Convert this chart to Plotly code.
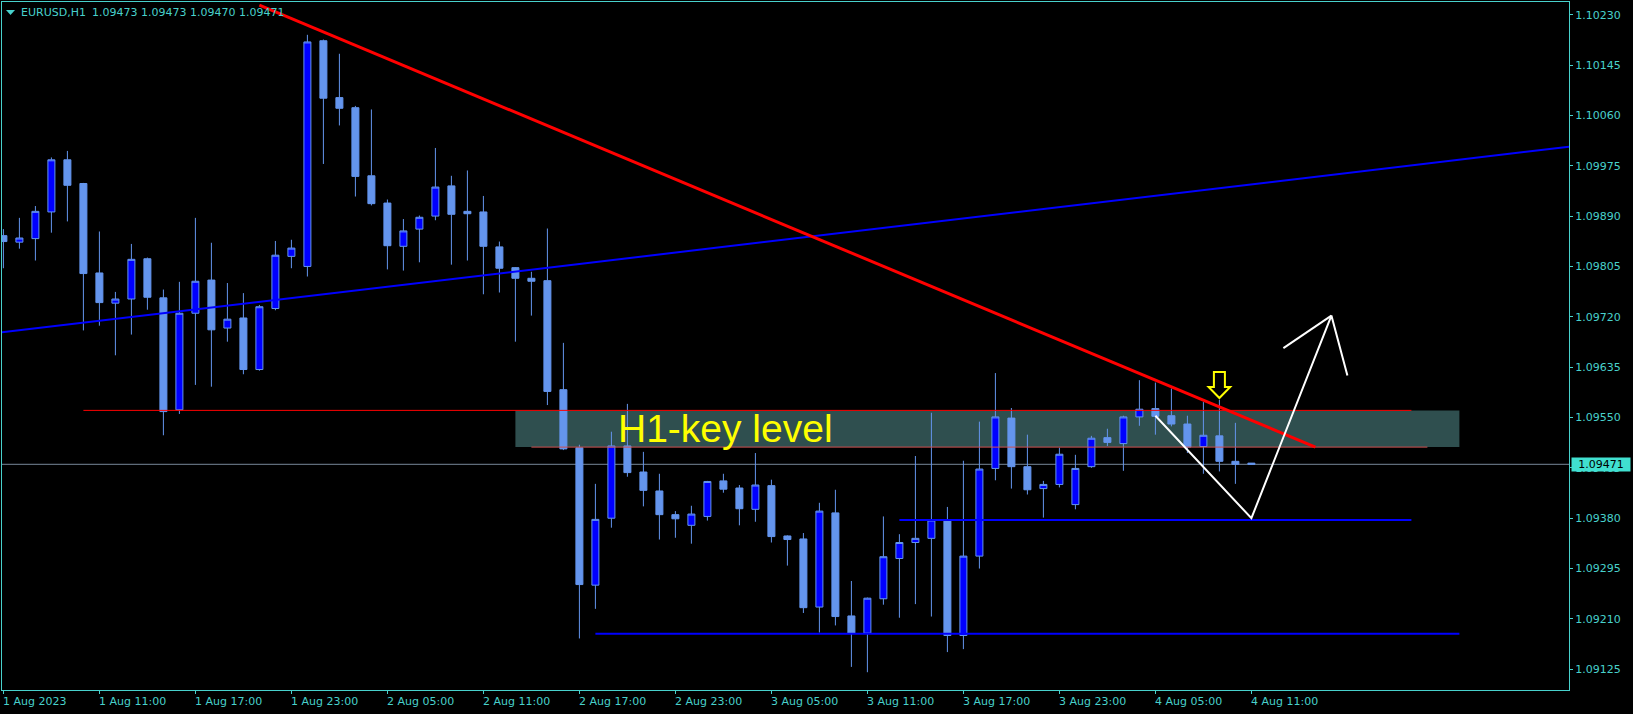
import pandas as pd
import plotly.graph_objects as go

# ---------------- data ----------------
t0 = pd.Timestamp("2023-08-01 05:00")
times = pd.date_range(t0, periods=79, freq="h")

opens = [1.09857, 1.09846, 1.09852, 1.09897, 1.09985, 1.09945, 1.09794, 1.09743, 1.09750, 1.09818,
         1.09752, 1.09563, 1.09726, 1.09782, 1.09701, 1.09718, 1.09631, 1.09734, 1.09822, 1.09805,
         1.10186, 1.10090, 1.10073, 1.09958, 1.09912, 1.09839, 1.09868, 1.09890, 1.09941, 1.09898,
         1.09897, 1.09838, 1.09803, 1.09785, 1.09781, 1.09597, 1.09499, 1.09267, 1.09380, 1.09502,
         1.09458, 1.09426, 1.09386, 1.09368, 1.09383, 1.09443, 1.09431, 1.09395, 1.09435, 1.09350,
         1.09345, 1.09230, 1.09389, 1.09215, 1.09186, 1.09244, 1.09312, 1.09339, 1.09346, 1.09377,
         1.09182, 1.09316, 1.09464, 1.09549, 1.09467, 1.09430, 1.09437, 1.09403, 1.09467, 1.09516,
         1.09506, 1.09551, 1.09565, 1.09553, 1.09539, 1.09501, 1.09519, 1.09476, 1.09473]
highs = [1.09868, 1.09887, 1.09907, 1.09989, 1.10000, 1.09946, 1.09864, 1.09762, 1.09843, 1.09820,
         1.09766, 1.09779, 1.09887, 1.09845, 1.09777, 1.09760, 1.09740, 1.09848, 1.09850, 1.10196,
         1.10188, 1.10164, 1.10076, 1.10070, 1.09918, 1.09885, 1.09891, 1.10005, 1.09958, 1.09967,
         1.09924, 1.09847, 1.09804, 1.09796, 1.09869, 1.09676, 1.09504, 1.09438, 1.09526, 1.09573,
         1.09492, 1.09455, 1.09392, 1.09401, 1.09443, 1.09455, 1.09436, 1.09490, 1.09445, 1.09351,
         1.09355, 1.09406, 1.09428, 1.09274, 1.09246, 1.09383, 1.09353, 1.09485, 1.09558, 1.09399,
         1.09477, 1.09543, 1.09625, 1.09566, 1.09521, 1.09443, 1.09499, 1.09487, 1.09519, 1.09531,
         1.09553, 1.09613, 1.09609, 1.09599, 1.09553, 1.09576, 1.09580, 1.09541, 1.09473]
lows = [1.09802, 1.09835, 1.09815, 1.09862, 1.09881, 1.09697, 1.09705, 1.09655, 1.09690, 1.09732,
        1.09520, 1.09556, 1.09605, 1.09602, 1.09678, 1.09623, 1.09629, 1.09731, 1.09802, 1.09788,
        1.09978, 1.10043, 1.09923, 1.09908, 1.09800, 1.09798, 1.09812, 1.09883, 1.09808, 1.09815,
        1.09758, 1.09761, 1.09678, 1.09722, 1.09571, 1.09495, 1.09177, 1.09227, 1.09364, 1.09450,
        1.09400, 1.09344, 1.09347, 1.09337, 1.09376, 1.09423, 1.09368, 1.09374, 1.09339, 1.09300,
        1.09220, 1.09187, 1.09199, 1.09129, 1.09120, 1.09234, 1.09212, 1.09235, 1.09214, 1.09154,
        1.09159, 1.09295, 1.09444, 1.09430, 1.09420, 1.09381, 1.09432, 1.09395, 1.09465, 1.09502,
        1.09460, 1.09536, 1.09521, 1.09535, 1.09490, 1.09455, 1.09459, 1.09438, 1.09470]
closes = [1.09847, 1.09853, 1.09898, 1.09985, 1.09942, 1.09793, 1.09744, 1.09750, 1.09817, 1.09753,
          1.09560, 1.09726, 1.09780, 1.09698, 1.09716, 1.09631, 1.09737, 1.09824, 1.09836, 1.10184,
          1.10089, 1.10072, 1.09957, 1.09911, 1.09840, 1.09865, 1.09888, 1.09939, 1.09893, 1.09894,
          1.09839, 1.09802, 1.09785, 1.09780, 1.09594, 1.09497, 1.09268, 1.09378, 1.09502, 1.09457,
          1.09427, 1.09386, 1.09379, 1.09387, 1.09442, 1.09429, 1.09396, 1.09436, 1.09349, 1.09344,
          1.09229, 1.09392, 1.09214, 1.09186, 1.09245, 1.09315, 1.09339, 1.09346, 1.09377, 1.09182,
          1.09316, 1.09463, 1.09551, 1.09467, 1.09428, 1.09437, 1.09488, 1.09464, 1.09515, 1.09508,
          1.09551, 1.09564, 1.09552, 1.09539, 1.09500, 1.09520, 1.09476, 1.09471, 1.09471]

# x tick labels (every 6 bars)
tick_bars = [0, 6, 12, 18, 24, 30, 36, 42, 48, 54, 60, 66, 72, 78]
tick_text = ["1 Aug 2023", "1 Aug 11:00", "1 Aug 17:00", "1 Aug 23:00", "2 Aug 05:00",
             "2 Aug 11:00", "2 Aug 17:00", "2 Aug 23:00", "3 Aug 05:00", "3 Aug 11:00",
             "3 Aug 17:00", "3 Aug 23:00", "4 Aug 05:00", "4 Aug 11:00"]
price_ticks = [1.09125, 1.09210, 1.09295, 1.09380, 1.09465, 1.09550, 1.09635,
               1.09720, 1.09805, 1.09890, 1.09975, 1.10060, 1.10145, 1.10230]

# chart objects: (bar index, price)
red_trend_bars, red_trend_prices = [16, 82], [1.10246, 1.09500]
blue_trend_bars, blue_trend_prices = [0, 90], [1.09694, 1.09982]
zone_bars, zone_prices = [32, 91], [1.09500, 1.09562]
red_top_bars, red_top_price = [5, 88], 1.09562
red_low_bars, red_low_price = [33, 89], 1.09500
blue_h1_bars, blue_h1_price = [56, 88], 1.09377
blue_h2_bars, blue_h2_price = [37, 91], 1.09185
white_bars, white_prices = [72, 78, 83, 84], [1.09553, 1.09380, 1.09722, 1.09621]
wing_bars, wing_prices = [80, 83], [1.09667, 1.09722]
arrow_bar, arrow_price = 76, 1.09583
label_bar, label_price = 38.3, 1.09531
bid_price = 1.09471
title_symbol = "EURUSD,H1"
title_ohlc = "1.09473 1.09473 1.09470 1.09471"

# ---------------- layout constants ----------------
W, H = 1633, 714
ML, MR, MT, MB = 2, 64, 2, 24
PW, PH = W - ML - MR, H - MT - MB
TEAL = "#48D1CC"
FONT = "DejaVu Sans"
x_lo, x_hi = -0.0875, 97.85
y_lo, y_hi = 1.090900, 1.102514


def T(i):
    return t0 + pd.Timedelta(hours=float(i))


def TS(i):
    return T(i).strftime("%Y-%m-%d %H:%M:%S.%f")


def px(xp):
    return (xp - ML) / PW


def py(yp):
    return (MT + PH - yp) / PH


fig = go.Figure()

fig.add_trace(go.Candlestick(
    x=times, open=opens, high=highs, low=lows, close=closes,
    increasing=dict(fillcolor="#0000FF", line=dict(color="#6495ED", width=1)),
    decreasing=dict(fillcolor="#6495ED", line=dict(color="#6495ED", width=1)),
    whiskerwidth=0, showlegend=False, hoverinfo="skip",
))

shapes = []
# key zone rectangle (background)
shapes.append(dict(type="rect", xref="x", yref="y", x0=TS(zone_bars[0]), x1=TS(zone_bars[1]),
                   y0=zone_prices[0], y1=zone_prices[1], fillcolor="#2F4F4F",
                   line=dict(width=0), layer="below"))
# bid line
shapes.append(dict(type="line", xref="paper", yref="y", x0=0, x1=1, y0=bid_price, y1=bid_price,
                   line=dict(color="#778899", width=1), layer="below"))


def seg(bars, prices, color, width):
    fig.add_trace(go.Scatter(x=[T(b) for b in bars], y=prices, mode="lines",
                             line=dict(color=color, width=width), showlegend=False,
                             hoverinfo="skip"))


# horizontal lines
seg(red_top_bars, [red_top_price] * 2, "#FF0000", 1)
seg(red_low_bars, [red_low_price] * 2, "#D05050", 1)
seg(blue_h1_bars, [blue_h1_price] * 2, "#0000FF", 2)
seg(blue_h2_bars, [blue_h2_price] * 2, "#0000FF", 2)

# blue trend ray extended across chart
slope = (blue_trend_prices[1] - blue_trend_prices[0]) / (blue_trend_bars[1] - blue_trend_bars[0])
bl = [x_lo, x_hi]
seg(bl, [blue_trend_prices[0] + slope * (b - blue_trend_bars[0]) for b in bl], "#0000FF", 2)

# red trend line
seg(red_trend_bars, red_trend_prices, "#FF0000", 3)

# white projection
seg(white_bars, white_prices, "#FFFFFF", 2)
seg(wing_bars, wing_prices, "#FFFFFF", 2)

# yellow down arrow
shapes.append(dict(type="path", xref="x", yref="y", xsizemode="pixel", ysizemode="pixel",
                   xanchor=TS(arrow_bar), yanchor=arrow_price,
                   path="M 0 0 L 10.8 11 L 5.5 11 L 5.5 26 L -5.5 26 L -5.5 11 L -10.8 11 Z",
                   line=dict(color="#FFFF00", width=2), fillcolor="rgba(0,0,0,0)", layer="above"))
# title triangle
shapes.append(dict(type="path", xref="paper", yref="paper", xsizemode="pixel", ysizemode="pixel",
                   xanchor=px(10.5), yanchor=py(12.5),
                   path="M -4.5 2.5 L 4.5 2.5 L 0 -2.5 Z",
                   line=dict(color=TEAL, width=0), fillcolor=TEAL, layer="above"))

annotations = [
    dict(text="H1-key level", x=TS(label_bar), y=label_price, xref="x", yref="y",
         xanchor="left", yanchor="middle", showarrow=False,
         font=dict(family="Liberation Sans", size=39, color="#FFFF00")),
    dict(text=title_symbol, x=px(19), y=py(12.5), xref="paper", yref="paper",
         xanchor="left", yanchor="middle", showarrow=False,
         font=dict(family=FONT, size=11, color=TEAL)),
    dict(text=title_ohlc, x=px(90), y=py(12.5), xref="paper", yref="paper",
         xanchor="left", yanchor="middle", showarrow=False,
         font=dict(family=FONT, size=11, color=TEAL)),
    dict(text="%.5f" % bid_price, x=px(1571), y=bid_price, xref="paper", yref="y",
         xanchor="left", yanchor="middle", showarrow=False, bgcolor="#40E0D0",
         width=56, height=11, borderpad=1, align="center",
         font=dict(family=FONT, size=11, color="#000000")),
]
# time labels, left-aligned at their tick like MT4
for b, txt in zip(tick_bars, tick_text):
    annotations.append(dict(text=txt, x=TS(b), y=py(701.5), xref="x", yref="paper",
                            xanchor="left", yanchor="middle", showarrow=False, xshift=-2,
                            font=dict(family=FONT, size=11, color=TEAL)))

fig.update_layout(
    width=W, height=H, margin=dict(l=ML, r=MR, t=MT, b=MB, pad=0),
    paper_bgcolor="#000000", plot_bgcolor="#000000",
    boxgap=0.375, showlegend=False, hovermode=False,
    shapes=shapes, annotations=annotations,
    xaxis=dict(type="date", range=[T(x_lo), T(x_hi)], showgrid=False, zeroline=False,
               showline=True, mirror=True, linecolor=TEAL, linewidth=1,
               ticks="outside", ticklen=3, tickcolor=TEAL,
               tickvals=[T(b) for b in tick_bars], ticktext=[""] * len(tick_bars),
               rangeslider=dict(visible=False), fixedrange=True),
    yaxis=dict(range=[y_lo, y_hi], side="right", showgrid=False, zeroline=False,
               showline=True, mirror=True, linecolor=TEAL, linewidth=1,
               ticks="outside", ticklen=3, tickcolor=TEAL,
               tickvals=price_ticks, ticktext=["%.5f" % v for v in price_ticks],
               tickfont=dict(family=FONT, size=11, color=TEAL), fixedrange=True),
)

fig.write_html("out.html", config={"displayModeBar": False},
               post_script="document.body.style.margin='0';document.body.style.background='#000';")
